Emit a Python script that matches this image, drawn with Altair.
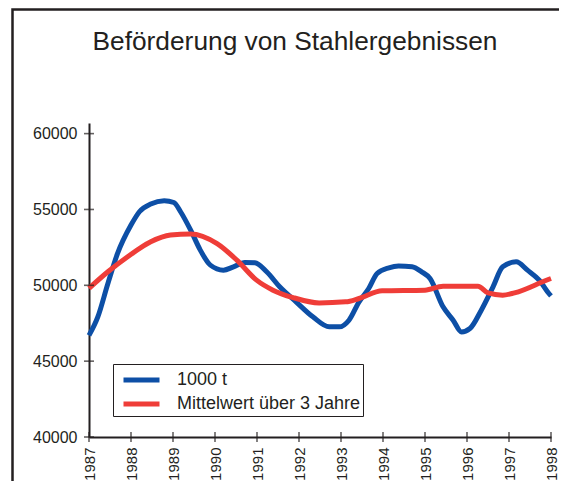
import altair as alt
import pandas as pd

TITLE = "Beförderung von Stahlergebnissen"
SERIES = ["1000 t", "Mittelwert über 3 Jahre"]
COLORS = ["#0d4fa6", "#ef3d38"]

blue_years = [1987.00, 1987.21, 1987.45, 1987.68, 1988.00, 1988.20, 1988.47, 1988.79,
              1989.02, 1989.18, 1989.42, 1989.65, 1989.89, 1990.20, 1990.44, 1990.71,
              1990.95, 1991.23, 1991.54, 1991.93, 1992.33, 1992.72, 1992.96, 1993.19,
              1993.43, 1993.66, 1993.86, 1994.14, 1994.37, 1994.69, 1994.92, 1995.12,
              1995.43, 1995.67, 1995.87, 1996.07, 1996.34, 1996.62, 1996.85, 1997.17,
              1997.44, 1997.72, 1997.95, 1998.00]
blue_values = [46700, 47920, 50120, 52100, 53970, 54850, 55360, 55580,
               55460, 54850, 53640, 52320, 51330, 51000, 51220, 51500,
               51480, 50890, 49900, 48910, 47920, 47260, 47260, 47700,
               48910, 49790, 50780, 51150, 51270, 51220, 50890, 50450,
               48580, 47700, 46930, 47150, 48360, 49900, 51220, 51550,
               51000, 50340, 49460, 49300]

red_years = [1987.00, 1987.45, 1987.92, 1988.47, 1988.94, 1989.42, 1990.04, 1990.52,
             1990.99, 1991.38, 1991.86, 1992.48, 1993.11, 1993.43, 1993.98, 1995.00,
             1995.43, 1996.26, 1996.50, 1996.85, 1997.13, 1997.95, 1998.00]
red_values = [49800, 50890, 51880, 52870, 53310, 53380, 52760, 51660,
              50340, 49680, 49190, 48840, 48910, 49130, 49640, 49680,
              49940, 49940, 49500, 49350, 49500, 50400, 50450]

y_ticks = [40000, 45000, 50000, 55000, 60000]
x_ticks = list(range(1987, 1999))

df = pd.concat([
    pd.DataFrame({"year": blue_years, "value": blue_values, "series": SERIES[0], "o": 0}),
    pd.DataFrame({"year": red_years, "value": red_values, "series": SERIES[1], "o": 1}),
])

FONT = "Liberation Sans"
INK = "#231f20"
TOP = 115   # plot top offset inside the svg
LEFT = 81   # plot left offset inside the svg
W = 462

xscale = alt.Scale(domain=[1987, 1998], nice=False, zero=False)
yscale = alt.Scale(domain=[40000, 60700], nice=False, zero=False)
xaxis = alt.Axis(values=x_ticks, format="d", labelAngle=-90, ticks=False,
                 labelPadding=10, labelFontSize=15, labelFont=FONT,
                 labelColor=INK, domainColor=INK, domainWidth=2, grid=False)
yaxis = alt.Axis(values=y_ticks, format="d", ticks=False, labelPadding=12,
                 labelFontSize=16, labelFont=FONT, labelColor=INK,
                 domainColor=INK, domainWidth=2, grid=False)

lines = alt.Chart(df).mark_line(strokeWidth=5, interpolate="monotone").encode(
    x=alt.X("year:Q", scale=xscale, title=None, axis=xaxis),
    y=alt.Y("value:Q", scale=yscale, title=None, axis=yaxis),
    color=alt.Color("series:N", scale=alt.Scale(domain=SERIES, range=COLORS),
                    legend=alt.Legend(orient="none", legendX=24, legendY=241, title=None,
                                      symbolType="M-0.478,0L2.652,0", symbolSize=529,
                                      symbolStrokeWidth=5, labelFontSize=18, labelFont=FONT,
                                      labelColor=INK, padding=2, labelOffset=34, rowPadding=0,
                                      labelLimit=400, strokeColor=INK, fillColor="white")),
    detail="series:N",
    order="o:Q",
)

ytick_df = pd.DataFrame({"value": y_ticks, "year": [1987] * len(y_ticks)})
yticks = alt.Chart(ytick_df).mark_tick(orient="horizontal", size=10, thickness=1.6, color=INK).encode(
    y=alt.Y("value:Q", scale=yscale, title=None, axis=yaxis),
    x=alt.X("year:Q", scale=xscale, title=None, axis=xaxis),
)
xtick_df = pd.DataFrame({"year": x_ticks, "value": [40000] * len(x_ticks)})
xticks = alt.Chart(xtick_df).mark_tick(orient="vertical", size=10, thickness=1.6, color=INK).encode(
    x=alt.X("year:Q", scale=xscale, title=None, axis=xaxis),
    y=alt.Y("value:Q", scale=yscale, title=None, axis=yaxis),
)

title_df = pd.DataFrame({"t": [TITLE]})
title = alt.Chart(title_df).mark_text(font=FONT, fontSize=26.3, color=INK, align="center",
                                      baseline="alphabetic").encode(
    text="t:N", x=alt.value(295 - 8 - LEFT), y=alt.value(-73))

# outer picture frame: only its left and top edges fall inside the drawing
frame_df = pd.DataFrame({"k": [0]})
frame = alt.Chart(frame_df).mark_rect(fillOpacity=0, stroke=INK, strokeWidth=2.5).encode(
    x=alt.value(12.5 - 8 - LEFT), x2=alt.value(W + 120),
    y=alt.value(-TOP + 1.5), y2=alt.value(500))

chart = alt.layer(frame, title, lines, yticks, xticks).properties(
    width=W, height=314,
    padding={"left": LEFT, "top": TOP, "right": 8, "bottom": 44},
    autosize=alt.AutoSizeParams(type="none"),
    background="white",
).configure_view(strokeWidth=0).configure_axisY(
    labelFontSize=16, labelFont=FONT
).configure_axisX(labelFontSize=15, labelFont=FONT)

chart.save("out.html", embed_options={"renderer": "svg", "actions": False})
